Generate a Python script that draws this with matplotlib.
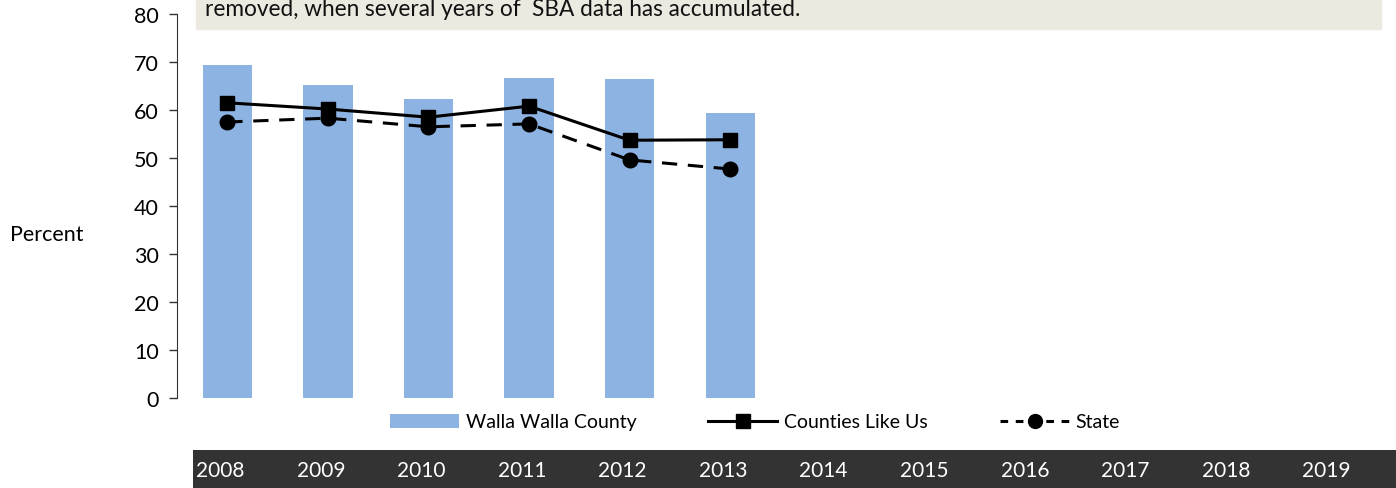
import numpy as np
import matplotlib
matplotlib.use("Agg")
import matplotlib.pyplot as plt
from matplotlib.lines import Line2D
from matplotlib.patches import Patch

years = ["2008", "2009", "2010", "2011", "2012", "2013",
         "2014", "2015", "2016", "2017", "2018", "2019"]
county = [69.4, 65.2, 62.3, 66.7, 66.5, 59.4]
counties_like_us = [61.5, 60.2, 58.5, 60.8, 53.7, 53.8]
state = [57.5, 58.3, 56.5, 57.1, 49.6, 47.7]
y_ticks = [0, 10, 20, 30, 40, 50, 60, 70, 80]
note = "removed, when several years of  SBA data has accumulated."

plt.rcParams["font.family"] = ["Lato", "DejaVu Sans"]

W, H = 1396, 489
fig = plt.figure(figsize=(W / 100, H / 100), dpi=100)

# main plot area
ax = fig.add_axes([177 / W, (H - 399) / H, (1384 - 177) / W, (399 - 15) / H])
x = np.arange(len(years))
n = len(county)
ax.bar(x[:n], county, width=0.49, color="#8DB3E2", zorder=1)
ax.plot(x[:n], counties_like_us, color="black", lw=2.2, marker="s",
        markersize=10.5, zorder=3)
ax.plot(x[:n], state, color="black", lw=2.2, ls=(0, (5, 3.5)), marker="o",
        markersize=10.5, zorder=3)
ax.set_xlim(-0.5, len(years) - 0.5)
ax.set_ylim(0, 80)
ax.set_yticks(y_ticks)
ax.tick_params(axis="y", direction="out", length=6, width=1, labelsize=15.5,
               pad=7, color="#333333")
ax.set_xticks([])
for s in ["top", "right", "bottom"]:
    ax.spines[s].set_visible(False)
ax.spines["left"].set_color("#333333")
ax.patch.set_alpha(0)

fig.text(10 / W, 1 - 235 / H, "Percent", fontsize=15.5, va="center", ha="left")

# note box at top (cut off in the original)
fig.patches.append(plt.Rectangle((196 / W, 1 - 30 / H), (1381 - 196) / W, 0.2,
                                 transform=fig.transFigure, color="#ECEAE0",
                                 zorder=0))
fig.text(205 / W, 1 - 9 / H, note, fontsize=16.3, va="center", ha="left",
         color="#111111")

# legend, one entry at a time so each sits where it does in the original
handles = [Patch(facecolor="#8DB3E2"),
           Line2D([], [], color="black", lw=2.2, marker="s", markersize=10),
           Line2D([], [], color="black", lw=2.2, ls=(0, (2.5, 2.5)), marker="o",
                  markersize=10)]
labels = ["Walla Walla County", "Counties Like Us", "State"]
starts = [390, 708, 1000]
for h, lab, xs in zip(handles, labels, starts):
    fig.legend([h], [lab], loc="center left",
               bbox_to_anchor=(xs / W, 1 - 423 / H), frameon=False,
               fontsize=14, handlelength=3.55, handleheight=0.7,
               handletextpad=0.35, borderpad=0, borderaxespad=0)

# dark year band
band = fig.add_axes([193 / W, 0, (W - 193) / W, (H - 451) / H])
band.set_facecolor("#333333")
band.set_xticks([])
band.set_yticks([])
for s in band.spines.values():
    s.set_visible(False)
x0 = ax.get_xlim()[0]
band.set_xlim(x0 + (193 - 177) / 100.58, x0 + (W - 177) / 100.58)
band.set_ylim(0, 1)
for i, yr in enumerate(years):
    band.text(i - 0.07, 0.47, yr, color="white", fontsize=15, ha="center",
              va="center")

fig.savefig("out.png", dpi=100)
